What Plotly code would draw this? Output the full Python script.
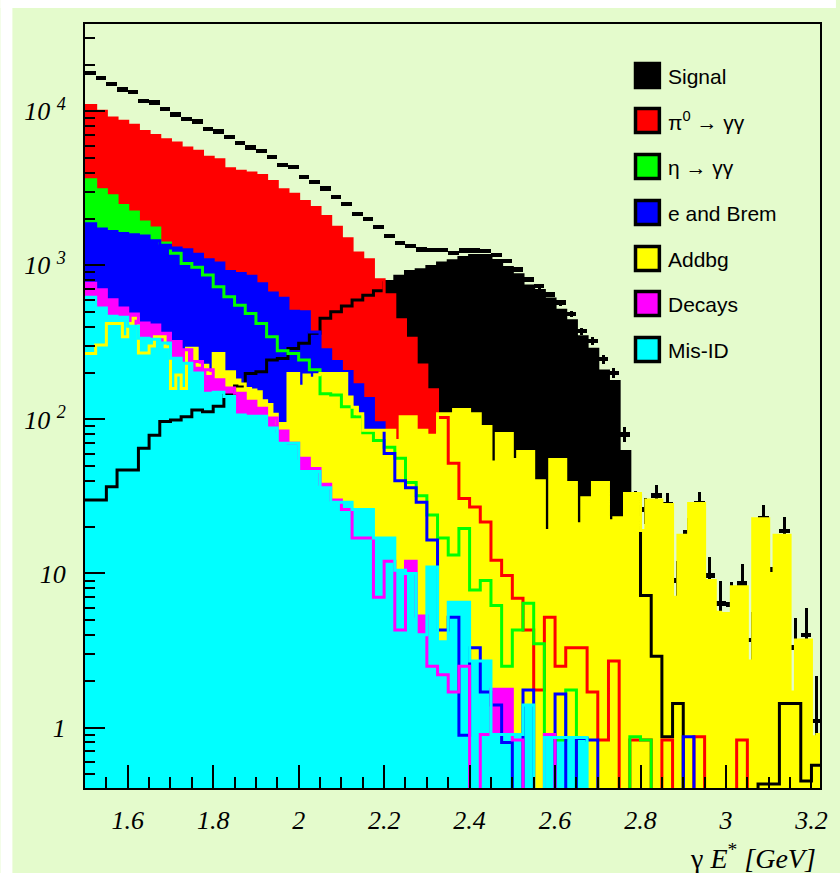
import numpy as np
import plotly.graph_objects as go

# ---------------------------------------------------------------------------
# Histogram binning: 0.025 GeV bins from 1.5 GeV (Addbg uses 0.0125 GeV bins)
# ---------------------------------------------------------------------------
X_START = 1.5
BIN_W = 0.025
HALF_W = 0.0125

# Data (points with error bars)
data_counts = [17800, 16400, 15000, 13900, 13300, 11700, 11400, 10350, 9560, 8920,
               8570, 7680, 7380, 6840, 6250, 5840, 5550, 5070, 4480, 4370,
               3760, 3490, 3160, 2790, 2510, 2160, 2000, 1775, 1555, 1400,
               1335, 1270, 1257, 1257, 1207, 1250, 1250, 1240, 1163, 1068,
               943, 812, 735, 649, 573, 482, 375, 323, 246, 201,
               80, 29, 26, 32, 28, 9, 18.6, 28.6, 9.7, 6.4,
               6.3, 8.6, 3.7, 23, 10.6, 18.9, 3.3, 4.0, 1.1]

signal = [30, 30, 36.5, 47, 47, 65, 79, 97, 99, 104,
          115, 112, 122, 144, 165, 199, 204, 243, 249, 289,
          312, 362, 453, 500, 544, 596, 641, 684, 787, 849,
          914, 937, 985, 1035, 1071, 1127, 1160, 1160, 1075, 970,
          870, 735, 687, 605, 511, 437, 344, 286, 206, 176,
          62, 33, 7.2, 2.9, 0.87, 1.43, 0, 0, 0, 0,
          0, 0, 0, 0.43, 0.43, 1.43, 1.43, 0.45, 0.57]

pi0 = [10900, 10000, 9050, 8610, 8110, 7410, 6980, 6540, 6220, 5780,
       5500, 5030, 4850, 4240, 4080, 3980, 3840, 3510, 3100, 2900,
       2600, 2380, 2080, 1766, 1489, 1202, 1087, 807, 644, 443,
       337, 226, 156, 103, 52, 30.7, 27, 21.6, 12.2, 9.7,
       6.9, 4.3, 1.75, 5.2, 2.5, 3.3, 3.3, 1.7, 0.83, 2.7,
       0, 0.83, 0.83, 0, 0.83, 0, 0, 0.87, 0, 0,
       0, 0.83, 0, 0, 0, 0, 0, 0, 0]

eta = [3600, 3100, 2830, 2450, 2220, 1910, 1750, 1400, 1200, 1030,
       971, 865, 726, 625, 552, 488, 420, 344, 279, 268,
       243, 210, 147, 144, 121, 104, 82, 73, 66, 56,
       39, 32, 24, 17, 13.2, 19.6, 7.8, 9.0, 6.2, 2.5,
       4.3, 6.4, 3.5, 0.9, 0.83, 1.75, 0, 0, 0, 0,
       0, 0.87, 0.83, 0, 0, 0, 0, 0, 0, 0,
       0, 0, 0, 0, 0, 0, 0, 0, 0]

e_brem = [1862, 1720, 1662, 1613, 1580, 1550, 1445, 1349, 1295, 1262,
          1183, 1087, 1035, 914, 887, 850, 760, 661, 612, 503,
          500, 370, 283, 238, 205, 168, 137, 95, 60, 40,
          36, 29, 16.5, 4.3, 5.2, 0.89, 3.3, 1.7, 1.4, 0.8,
          0, 1.75, 0, 0, 1.65, 0, 0.85, 0.83, 0, 0,
          0, 0, 0, 0, 0, 0, 0.87, 0, 0, 0,
          0, 0, 0, 0, 0, 0, 0, 0, 0]

decays = [767, 695, 598, 528, 483, 422, 410, 363, 321, 283,
          238, 210, 181, 160, 148, 131, 118, 102, 84, 70,
          56, 48, 38, 30, 26, 17, 17, 7, 12, 4.3,
          12, 5.3, 2.5, 2.2, 1.7, 2.5, 0, 0.9, 1.77, 1.77,
          0.83, 0, 0, 0.9, 0, 0, 0, 0, 0, 0,
          0, 0, 0, 0, 0, 0, 0, 0, 0, 0,
          0, 0, 0, 0, 0, 0, 0, 0, 0]

mis_id = [620, 528, 467, 460, 402, 337, 331, 313, 250, 232,
          200, 148, 150, 141, 107, 105, 105, 88, 70, 70,
          46, 46, 36, 29, 29, 26, 26, 17, 17, 10.5,
          10, 4, 11, 3.6, 6.5, 6.5, 2.7, 2.7, 0.9, 0.9,
          0.9, 1.4, 0, 0.86, 0.86, 0.86, 0.86, 0, 0, 0,
          0, 0, 0, 0, 0, 0, 0, 0, 0, 0,
          0, 0, 0, 0, 0, 0, 0, 0, 0]

# Addbg in half-width bins (138 bins)
addbg = [268, 268, 304, 304, 420, 420, 420, 344, 420, 453,
         270, 270, 300, 344, 344, 296, 159, 194, 159, 290,
         290, 225, 225, 199, 268, 268, 204, 204, 180, 170,
         159, 155, 151, 132, 125, 108, 94, 94, 199, 199,
         164, 194, 185, 195, 199, 199, 199, 199, 199, 140,
         120, 109, 85, 85, 85, 85, 85, 85, 73, 104,
         104, 104, 85, 85, 79, 79, 109, 109, 109, 116,
         116, 116, 109, 109, 90, 90, 53, 81, 81, 81,
         55, 62, 62, 62, 40, 40, 19, 55, 55, 55,
         39, 39, 21, 31, 31, 39, 39, 39, 22, 23,
         23, 33, 33, 33, 19, 30, 30, 30, 28, 28,
         7.0, 17.7, 17.7, 28.5, 28.5, 28.5, 9.0, 9.0, 5.6, 5.5,
         5.5, 8.2, 8.2, 8.2, 2.7, 22.7, 22.7, 22.7, 10, 17.7,
         17.7, 17.7, 1.7, 3.7, 3.7, 3.7, 0.87, 0.9]

x_tick_vals = [1.6, 1.8, 2.0, 2.2, 2.4, 2.6, 2.8, 3.0, 3.2]
x_tick_text = ["1.6", "1.8", "2", "2.2", "2.4", "2.6", "2.8", "3", "3.2"]
y_tick_vals = [1, 10, 100, 1000, 10000]
y_tick_text = ["1", "10", "10 <sup>2</sup>", "10 <sup>3</sup>", "10 <sup>4</sup>"]

# Drawing order of the filled histograms (first drawn first) and legend order
components = [
    ("Signal", signal, BIN_W, "#000000"),
    ("π<sup>0</sup> → γγ", pi0, BIN_W, "#ff0000"),
    ("η → γγ", eta, BIN_W, "#00ff00"),
    ("e and Brem", e_brem, BIN_W, "#0000ff"),
    ("Addbg", addbg, HALF_W, "#ffff00"),
    ("Decays", decays, BIN_W, "#ff00ff"),
    ("Mis-ID", mis_id, BIN_W, "#00ffff"),
]

BG = "#e4fbcc"
W, H = 840, 873
ML, MR, MT, MB = 85, 16, 24, 85
PW, PH = W - ML - MR, H - MT - MB
X_RANGE = [1.5, 3.22]
Y_RANGE = [np.log10(0.405), np.log10(36900)]
PX_PER_DEC = PH / (Y_RANGE[1] - Y_RANGE[0])
PX_PER_GEV = PW / (X_RANGE[1] - X_RANGE[0])


def px_x(px):
    return (px - ML) / PW


def px_y(py):
    return (H - MB - py) / PH


fig = go.Figure()

# data points: a bin-wide bar at each value plus a vertical sqrt(N) error bar,
# drawn first so the filled histograms sit on top of them
dc = np.asarray(data_counts, float)
d_centers = X_START + BIN_W * (np.arange(len(dc)) + 0.5)
half_thick = 10 ** (2.2 / PX_PER_DEC)
err = np.sqrt(dc)
err_lo = np.maximum(dc - err, 1e-3)
fig.add_trace(go.Bar(
    x=d_centers, y=dc * half_thick - dc / half_thick, base=dc / half_thick,
    width=BIN_W, marker=dict(color="black", line=dict(width=0)),
    showlegend=False, hoverinfo="skip",
))
fig.add_trace(go.Bar(
    x=d_centers, y=(dc + err) - err_lo, base=err_lo,
    width=3.0 / PX_PER_GEV, marker=dict(color="black", line=dict(width=0)),
    showlegend=False, hoverinfo="skip",
))

# filled histograms
for name, vals, bw, col in components:
    v = np.asarray(vals, float)
    centers = X_START + bw * (np.arange(len(v)) + 0.5)
    yv = [val if val > 0 else None for val in v]
    fig.add_trace(go.Bar(
        x=centers, y=yv, width=bw,
        marker=dict(color=col, line=dict(width=0)),
        showlegend=False, hoverinfo="skip",
    ))

# histogram outlines on top of all fills
for name, vals, bw, col in components:
    v = np.asarray(vals, float)
    edges = X_START + bw * np.arange(len(v) + 1)
    yv = np.where(v > 0, v, 1e-3)
    yv = np.append(yv, yv[-1])
    fig.add_trace(go.Scatter(
        x=edges, y=yv, mode="lines",
        line=dict(color=col, width=3, shape="hv"),
        showlegend=False, hoverinfo="skip",
    ))

x_minor = [round(1.5 + 0.05 * i, 2) for i in range(1, 35)]
y_minor = []
for dec in range(-1, 5):
    for m in range(2, 10):
        val = m * 10.0 ** dec
        if 0.405 < val < 36900:
            y_minor.append(val)

tick_font = dict(family="Liberation Serif", size=26, color="black", style="italic")

fig.update_layout(
    width=W, height=H, autosize=False,
    margin=dict(l=ML, r=MR, t=MT, b=MB, pad=0),
    paper_bgcolor=BG, plot_bgcolor=BG,
    barmode="overlay", bargap=0,
    showlegend=False,
    xaxis=dict(
        range=X_RANGE, showgrid=False, zeroline=False,
        showline=True, linecolor="black", linewidth=2, mirror=True,
        ticks="inside", ticklen=23, tickwidth=2, tickcolor="black",
        tickvals=x_tick_vals, ticktext=x_tick_text, tickfont=tick_font,
        ticklabelstandoff=8, layer="above traces",
        minor=dict(ticks="inside", ticklen=11, tickwidth=2, tickcolor="black",
                   tickvals=x_minor, showgrid=False),
    ),
    yaxis=dict(
        type="log", range=Y_RANGE,
        showgrid=False, zeroline=False,
        showline=True, linecolor="black", linewidth=2, mirror=True,
        ticks="inside", ticklen=20, tickwidth=2, tickcolor="black",
        tickvals=y_tick_vals, ticktext=y_tick_text, tickfont=tick_font,
        ticklabelstandoff=12, layer="above traces",
        minor=dict(ticks="inside", ticklen=10, tickwidth=2, tickcolor="black",
                   tickvals=y_minor, showgrid=False),
    ),
)

shapes = [
    # white page margins outside the canvas frame
    dict(type="rect", xref="paper", yref="paper", layer="below",
         x0=px_x(0), x1=px_x(12), y0=px_y(H), y1=px_y(0),
         fillcolor="white", line=dict(width=0)),
    dict(type="rect", xref="paper", yref="paper", layer="below",
         x0=px_x(0), x1=px_x(W), y0=px_y(8), y1=px_y(0),
         fillcolor="white", line=dict(width=0)),
]

annotations = []
row_tops = [62, 107, 153, 199, 245, 290, 336]
for (name, vals, bw, col), top in zip(components, row_tops):
    shapes.append(dict(
        type="rect", xref="paper", yref="paper",
        x0=px_x(638.5), x1=px_x(662.5), y0=px_y(top + 25.5), y1=px_y(top + 1.5),
        fillcolor=col, line=dict(color="black", width=3.5),
    ))
    annotations.append(dict(
        xref="paper", yref="paper", x=px_x(669), y=px_y(top + 14),
        xanchor="left", yanchor="middle", showarrow=False, text=name,
        font=dict(family="Liberation Sans", size=21, color="black"),
    ))

annotations.append(dict(
    xref="paper", yref="paper", x=px_x(822), y=px_y(856),
    xanchor="right", yanchor="middle", showarrow=False,
    text="γ <i>E</i><sup>*</sup> <i>[GeV]</i>",
    font=dict(family="Liberation Serif", size=28, color="black"),
))

fig.update_layout(shapes=shapes, annotations=annotations)
fig.write_html("out.html")
